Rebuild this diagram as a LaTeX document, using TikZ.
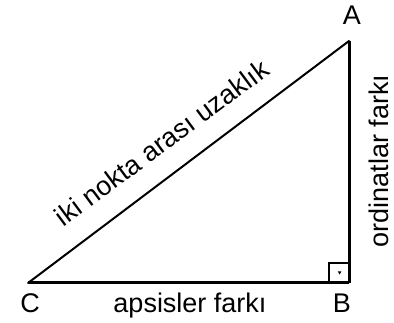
\documentclass[tikz,border=0pt]{standalone}
\usepackage{fontspec}
\setmainfont{Liberation Sans}
\begin{document}
\begin{tikzpicture}[x=1pt,y=-1pt,
  leg/.style={line width=3pt},
  hyp/.style={line width=2pt},
  lbl/.style={inner sep=0pt,anchor=base,font=\fontsize{27}{30}\selectfont}]
\useasboundingbox (0,0) rectangle (394,323);
\coordinate (C) at (28,283);
\coordinate (B) at (349,283);
\coordinate (A) at (349,41);
\coordinate (S1) at (329,283);
\coordinate (S2) at (329,263);
\coordinate (S3) at (349,263);
\draw[hyp,line cap=round] (C) -- (A);
\draw[leg] (C) -- (B);
\draw[leg] (B) -- (A);
\draw[line width=2.5pt] (S1) -- (S2) -- (S3);
\fill (337.8,271.5) -- (341.4,271.5) -- (339.6,274.5) -- cycle;
\node[lbl] (lA) at (352,25) {A};
\node[lbl] (lB) at (342,313) {B};
\node[lbl] (lC) at (30,313) {C};
\node[lbl] (lx) at (190,313) {apsisler farkı};
\node[lbl,rotate=90] (ly) at (388,161) {ordinatlar farkı};
\node[lbl,rotate=36.5] (lh) at (167.4,150.4) {iki nokta arası uzaklık};
\end{tikzpicture}
\end{document}
